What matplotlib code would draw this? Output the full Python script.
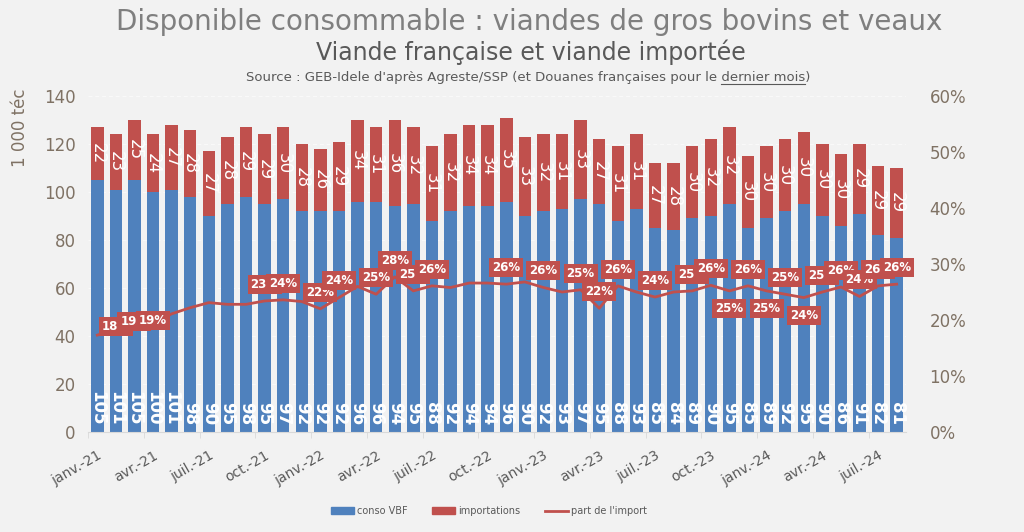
import matplotlib
matplotlib.use('Agg')
import matplotlib.pyplot as plt
import numpy as np
from matplotlib.lines import Line2D
from matplotlib.patches import Patch
from matplotlib.ticker import PercentFormatter

# data (1 000 téc), janv.-21 -> août-24
mois = ['janv.', 'févr.', 'mars', 'avr.', 'mai', 'juin', 'juil.', 'août',
        'sept.', 'oct.', 'nov.', 'déc.']
categories = [f'{m}-{a}' for a in (21, 22, 23, 24) for m in mois][:44]

conso_vbf = [105, 101, 105, 100, 101, 98, 90, 95, 98, 95, 97,
             92, 92, 92, 96, 96, 94, 95, 88, 92, 94, 94,
             96, 90, 92, 93, 97, 95, 88, 93, 85, 84, 89,
             90, 95, 85, 89, 92, 95, 90, 86, 91, 82, 81]
importations = [22, 23, 25, 24, 27, 28, 27, 28, 29, 29, 30, 28, 26, 29, 34,
                31, 36, 32, 31, 32, 34, 34, 35, 33, 32, 31, 33, 27, 31, 31, 27,
                28, 30, 32, 32, 30, 30, 30, 30, 30, 30, 29, 29, 29]
part_import = [17.3, 18.4, 19.2, 19.4, 21.1, 22.2, 23.1, 22.8, 22.8, 23.4, 23.6,
               23.3, 22.0, 24.0, 26.0, 24.6, 27.7, 25.2, 26.1, 25.8, 26.6, 26.6,
               26.4, 26.8, 25.8, 25.0, 25.4, 22.1, 26.1, 25.0, 24.1, 25.0, 25.2,
               26.2, 25.2, 26.1, 25.2, 24.6, 24.0, 25.0, 25.9, 24.2, 26.1, 26.4]

# which points of the line carry a label
pct_labels = [1, 2, 3, 9, 10, 12, 13, 15, 16, 17, 18, 22, 24, 26, 27, 28, 30,
              32, 33, 34, 35, 36, 37, 38, 39, 40, 41, 42, 43]
on_line = {1, 2, 3}
below = {34, 36, 38}

BLUE = '#4F81BD'
RED = '#C0504D'
BG = '#F2F2F2'
AXC = '#7f7264'

W, H = 1024, 532
fig = plt.figure(figsize=(W / 100, H / 100), dpi=100, facecolor=BG)
ax = fig.add_axes([88 / W, 1 - 432 / H, (906 - 88) / W, (432 - 96) / H])
ax.set_facecolor(BG)

x = np.arange(len(categories))
bot = np.array(conso_vbf)
top = bot + np.array(importations)
ax.bar(x, conso_vbf, width=0.67, color=BLUE, zorder=2)
ax.bar(x, importations, bottom=conso_vbf, width=0.67, color=RED, zorder=2)

for i in x:
    ax.annotate(str(conso_vbf[i]), (i, 0), xytext=(0, 5), textcoords='offset points',
                rotation=-90, ha='center', va='bottom', color='white',
                fontsize=12, fontweight='bold', zorder=3)
    ax.text(i, (bot[i] + top[i]) / 2, str(importations[i]), rotation=-90,
            ha='center', va='center', color='white', fontsize=12, zorder=3)

ax.set_xlim(-0.5, len(categories) - 0.5)
ax.set_ylim(0, 140)
ax.set_yticks(range(0, 141, 20))
ax.yaxis.grid(True, color='#FAFAFA', linestyle=(0, (4, 3)), linewidth=0.7)
ax.set_axisbelow(True)
for s in ['top', 'left', 'right']:
    ax.spines[s].set_visible(False)
ax.spines['bottom'].set_color('#D9D9D9')
ax.set_xticks(x[::3])
ax.set_xticklabels(categories[::3], rotation=30, ha='right', rotation_mode='anchor',
                   fontsize=10, color='#595959')
ax.set_xticks(np.arange(-0.5, len(categories), 3), minor=True)
ax.tick_params(axis='x', which='major', length=0, pad=12)
ax.tick_params(axis='x', which='minor', length=4, color='#D9D9D9')
ax.tick_params(axis='y', length=0, labelsize=12, labelcolor=AXC, pad=9)

ax2 = ax.twinx()
ax2.plot(x, np.array(part_import) / 100, color=RED, lw=2, zorder=4)
ax2.set_ylim(0, 0.6)
ax2.set_yticks(np.arange(0, 0.61, 0.1))
ax2.yaxis.set_major_formatter(PercentFormatter(1.0, decimals=0))
ax2.tick_params(axis='y', length=0, labelsize=12, labelcolor=AXC, pad=17)
for s in ax2.spines.values():
    s.set_visible(False)

for i in pct_labels:
    dy = 2 if i in on_line else (-13 if i in below else 12)
    ax2.annotate(f'{round(part_import[i])}%', (i, part_import[i] / 100),
                 xytext=(0, dy), textcoords='offset points', ha='center', va='center',
                 color='white', fontsize=8.5, fontweight='bold', zorder=5,
                 bbox=dict(boxstyle='square,pad=0.25', fc=RED, ec='none'))

# titles
fig.text(529 / W, 1 - 22 / H, 'Disponible consommable : viandes de gros bovins et veaux',
         ha='center', va='center', fontsize=20, color='#7F7F7F')
fig.text(531 / W, 1 - 52 / H, 'Viande française et viande importée',
         ha='center', va='center', fontsize=17, color='#595959')
src_txt = "Source : GEB-Idele d'après Agreste/SSP (et Douanes françaises pour le dernier mois)"
SRC_FS = 9.5
src = fig.text(528 / W, 1 - 78 / H, src_txt, ha='center', va='center',
               fontsize=SRC_FS, color='#595959')
fig.text(20 / W, 1 - 128 / H, '1 000 téc', rotation=90, ha='center', va='center',
         fontsize=12, color=AXC)

# underline "dernier mois"
fig.canvas.draw()
r = fig.canvas.get_renderer()
bb = src.get_window_extent(r)
def text_w(s):
    t = fig.text(0, 0, s, fontsize=SRC_FS)
    w = t.get_window_extent(r).width
    t.remove()
    return w
w1 = text_w(src_txt[:src_txt.index(' mois') + 5])
w2 = text_w('dernier mois')
ul_y = bb.y0 + 1
fig.add_artist(Line2D([(bb.x0 + w1 - w2) / W, (bb.x0 + w1) / W], [ul_y / H, ul_y / H],
                      transform=fig.transFigure, color='#595959', lw=0.8))

handles = [Patch(color=BLUE, label='conso VBF'),
           Patch(color=RED, label='importations'),
           Line2D([], [], color=RED, lw=2, label="part de l'import")]
fig.legend(handles=handles, loc='center', bbox_to_anchor=(489 / W, 1 - 511 / H), ncol=3,
           frameon=False, fontsize=7, labelcolor='#595959', handlelength=2.4,
           handleheight=0.6, columnspacing=2.5, handletextpad=0.3)

fig.savefig('out.png', dpi=100, facecolor=BG)
